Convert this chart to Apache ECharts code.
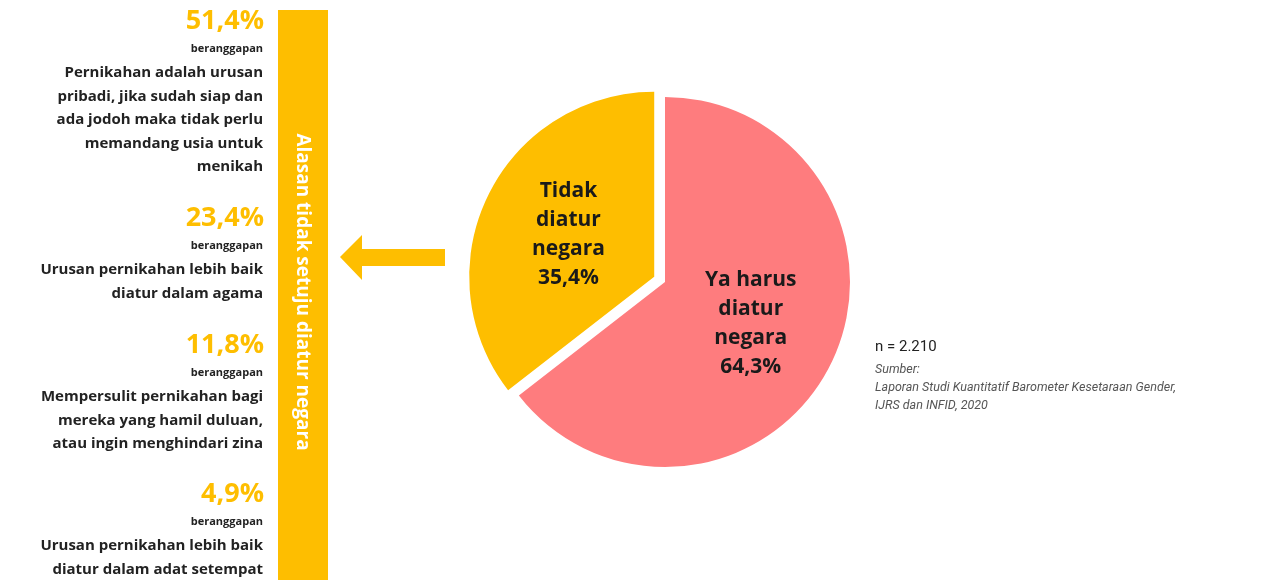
<!DOCTYPE html>
<html><head><meta charset="utf-8">
<script src="https://cdn.jsdelivr.net/npm/echarts@6/dist/echarts.min.js"></script>
<style>html,body{margin:0;padding:0;background:#fff}#c{width:1278px;height:580px}</style>
</head><body><div id="c"></div>
<script>
// Pie data
const pieNames = ['Ya harus\ndiatur\nnegara', 'Tidak\ndiatur\nnegara'];
const pieValues = [64.3, 35.4];
const pieColors = ['#FE7C7E', '#FEBE00'];
// Reasons panel
const reasonPct = ['51,4%', '23,4%', '11,8%', '4,9%'];
const reasonText = [
  'Pernikahan adalah urusan\npribadi, jika sudah siap dan\nada jodoh maka tidak perlu\nmemandang usia untuk\nmenikah',
  'Urusan pernikahan lebih baik\ndiatur dalam agama',
  'Mempersulit pernikahan bagi\nmereka yang hamil duluan,\natau ingin menghindari zina',
  'Urusan pernikahan lebih baik\ndiatur dalam adat setempat'
];
const reasonTop = [8, 205, 332, 481];
const barTitle = 'Alasan tidak setuju diatur negara';
const noteN = 'n = 2.210';
const noteSrc = 'Sumber:\nLaporan Studi Kuantitatif Barometer Kesetaraan Gender,\nIJRS dan INFID, 2020';

const FONT = '"Open Sans", Lato, sans-serif';
const chart = echarts.init(document.getElementById('c'), null, {renderer: 'canvas'});

const graphics = [];
graphics.push({type: 'rect', shape: {x: 278, y: 10, width: 50, height: 570}, style: {fill: '#FEBE00'}, z: 1});
graphics.push({type: 'text', x: 302, y: 292, rotation: -Math.PI / 2,
  style: {text: barTitle, fill: '#fff', font: 'bold 19px ' + FONT, align: 'center', verticalAlign: 'middle'}, z: 2});
graphics.push({type: 'polygon', shape: {points: [[340, 257], [362, 235], [362, 249], [445, 249], [445, 266], [362, 266], [362, 280]]},
  style: {fill: '#FEBE00'}, z: 1});
reasonPct.forEach((p, i) => {
  const y0 = reasonTop[i];
  graphics.push({type: 'text', x: 264, y: y0, style: {text: p, fill: '#FEBE00', font: 'bold 27px ' + FONT, align: 'right', verticalAlign: 'top'}});
  graphics.push({type: 'text', x: 263, y: y0 + 35, style: {text: 'beranggapan', fill: '#222', font: 'bold 11px ' + FONT, align: 'right', verticalAlign: 'top'}});
  graphics.push({type: 'text', x: 263, y: y0 + 53, style: {text: reasonText[i], fill: '#222', font: 'bold 15px ' + FONT, lineHeight: 23.6, align: 'right', verticalAlign: 'top'}});
});
graphics.push({type: 'text', x: 875, y: 340, style: {text: noteN, fill: '#222', font: '15px Roboto, sans-serif', verticalAlign: 'top'}});
graphics.push({type: 'text', x: 875, y: 361, style: {text: noteSrc, fill: '#555', font: 'italic 12.5px Roboto, sans-serif', lineHeight: 18, verticalAlign: 'top'}});

chart.setOption({
  animation: false,
  graphic: graphics,
  series: [{
    type: 'pie',
    center: [665, 282],
    radius: [0, 185],
    startAngle: 90,
    clockwise: true,
    selectedMode: 'single',
    selectedOffset: 12,
    emphasis: {disabled: true},
    label: {
      show: true, position: 'inside', color: '#1a1a1a',
      fontFamily: FONT, fontWeight: 'bold', fontSize: 21, lineHeight: 29,
      formatter: p => p.name + '\n' + p.value.toFixed(1).replace('.', ',') + '%'
    },
    labelLine: {show: false},
    data: pieValues.map((v, i) => ({value: v, name: pieNames[i], selected: i === 1, itemStyle: {color: pieColors[i]}}))
  }]
});
</script></body></html>
